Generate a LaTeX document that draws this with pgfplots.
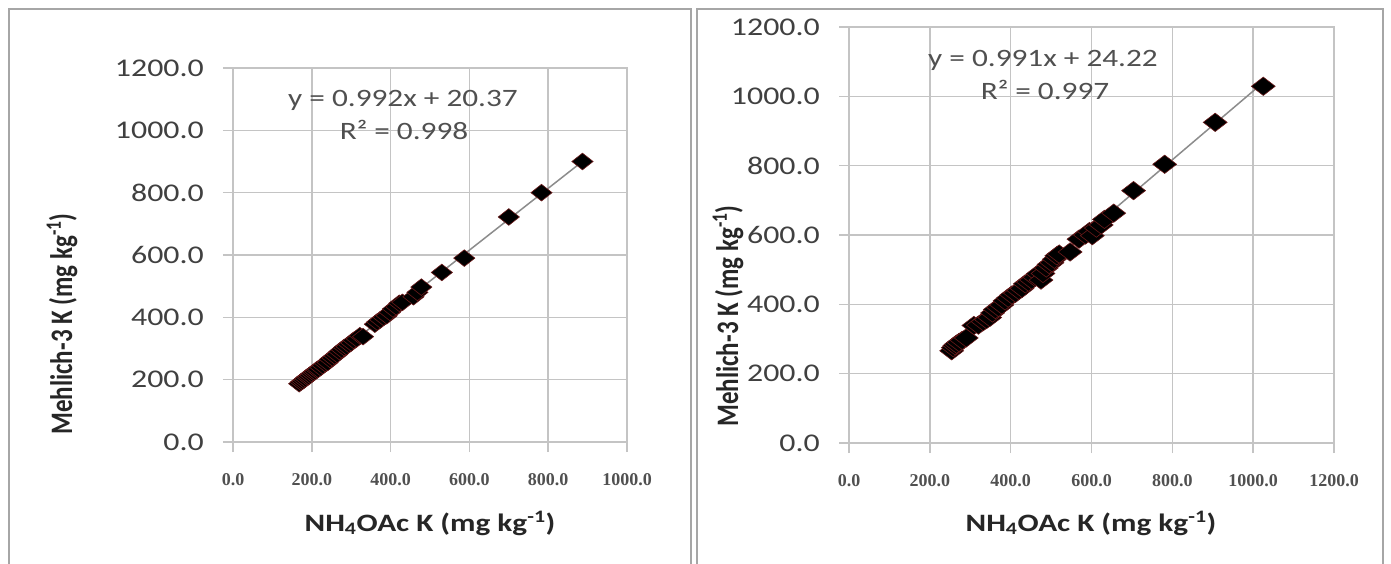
\documentclass[border=0pt]{standalone}
\usepackage{pgfplots}
\pgfplotsset{compat=1.18}
\usepackage{fontspec}
\setmainfont{Carlito}
\newfontfamily\wide{Carlito}[FakeStretch=1.25]
\newfontfamily\serifx{Liberation Serif}
\definecolor{gridc}{HTML}{C4C4C4}
\definecolor{ticktxt}{HTML}{404040}
\definecolor{xticktxt}{HTML}{505050}
\definecolor{eqtxt}{HTML}{505050}
\definecolor{labtxt}{HTML}{262626}
\definecolor{mkedge}{HTML}{6B1A1A}
\definecolor{trend}{HTML}{8C8C8C}
\definecolor{panel}{HTML}{A6A6A6}

\pgfplotsset{
  common/.style={
    anchor=south west, scale only axis,
    xmin=0, ymin=0, ymax=1200,
    ytick={0,200,...,1200},
    grid=major,
    major grid style={gridc, line width=1.6pt},
    axis line style={gridc, line width=1.6pt},
    every tick/.style={gridc, line width=1.6pt},
    major tick length=10pt,
    tick align=outside,
    tick pos=left,
    axis on top=false,
    /pgf/number format/.cd, fixed, fixed zerofill, precision=1, 1000 sep={}, assume math mode=true,
    /pgfplots/.cd,
    yticklabel style={font=\wide\fontsize{25.5}{30}\selectfont, text=ticktxt, anchor=east, inner sep=0pt, xshift=-19pt},
    xticklabel style={font=\serifx\bfseries\fontsize{18}{22}\selectfont, text=xticktxt, anchor=center, inner sep=0pt, yshift=-28pt},
    clip=false,
  }
}

\begin{document}
\begin{tikzpicture}[x=1pt,y=1pt]
\path[use as bounding box] (0,0) rectangle (1391,-564);
\fill[white] (0,0) rectangle (1391,-564);
% panel frames
\draw[panel, line width=2pt] (9,-564) -- (9,-9) -- (691,-9) -- (691,-564);
\draw[panel, line width=2pt] (697,-564) -- (697,-9) -- (1383,-9) -- (1383,-564);

% ---------- left axis ----------
\begin{axis}[common,
  at={(233pt,-442pt)}, width=394pt, height=374pt,
  xmax=1000, xtick={0,200,...,1000}]
\addplot[trend, line width=1.5pt] coordinates {(168,187.0) (887,900.3)};
\addplot[only marks, mark=square*, mark size=5.9pt,
  mark options={xscale=1.27, rotate=45, fill=black, draw=mkedge, line width=0.6pt}]
  coordinates {
  (168,187) (172,192) (176,195) (180,199) (184,203) (188,208) (192,210)
  (196,214) (200,219) (204,223) (208,226) (212,231) (216,233) (222,239)
  (228,245) (234,252) (240,255) (246,265) (252,270) (258,276) (264,281)
  (270,290) (276,296) (282,303) (288,306) (294,313) (300,318) (306,326)
  (314,331) (322,341) (330,338) (360,378) (366,385) (374,392) (382,400)
  (390,405) (398,416) (406,427) (414,434) (422,445) (430,448) (458,466)
  (468,480) (478,497) (530,544) (587,590) (700,722) (783,800) (887,900)
  };
\end{axis}

% ---------- right axis ----------
\begin{axis}[common,
  at={(849pt,-443pt)}, width=485pt, height=416pt,
  xmax=1200, xtick={0,200,...,1200}]
\addplot[trend, line width=1.5pt] coordinates {(254,275.9) (1025,1040.0)};
\addplot[only marks, mark=square*, mark size=6.5pt,
  mark options={xscale=1.3, rotate=45, fill=black, draw=mkedge, line width=0.6pt}]
  coordinates {
  (254,266) (258,275) (262,281) (266,285) (272,290) (280,296) (290,303)
  (309,339) (320,340) (332,350) (340,356) (348,362) (355,375) (362,385)
  (370,391) (378,398) (386,410) (394,418) (403,427) (412,432) (420,440)
  (428,446) (436,459) (444,464) (452,470) (460,478) (468,488) (475,470)
  (480,489) (488,505) (495,515) (502,520) (508,530) (514,540) (520,545)
  (547,551) (569,588) (585,600) (595,610) (602,598) (612,620) (624,629)
  (632,645) (655,663) (704,728) (781,804) (906,925) (1025,1029)
  };
\end{axis}

% labels
\node[font=\wide\bfseries\fontsize{25}{30}\selectfont, text=labtxt] at (430,-523) {NH\textsubscript{4}OAc K (mg kg\textsuperscript{-1})};
\node[font=\wide\bfseries\fontsize{25}{30}\selectfont, text=labtxt] at (1091,-523) {NH\textsubscript{4}OAc K (mg kg\textsuperscript{-1})};
\node[font=\bfseries\fontsize{25}{30}\selectfont, text=labtxt, rotate=90, yscale=1.25] at (62,-324) {Mehlich-3 K (mg kg\textsuperscript{-1})};
\node[font=\bfseries\fontsize{25}{30}\selectfont, text=labtxt, rotate=90, yscale=1.25] at (728,-316) {Mehlich-3 K (mg kg\textsuperscript{-1})};

% equations
\node[font=\wide\fontsize{25}{30}\selectfont, text=eqtxt] at (403,-100) {y = 0.992x + 20.37};
\node[font=\wide\fontsize{25}{30}\selectfont, text=eqtxt] at (404,-130) {R² = 0.998};
\node[font=\wide\fontsize{25}{30}\selectfont, text=eqtxt] at (1043,-60) {y = 0.991x + 24.22};
\node[font=\wide\fontsize{25}{30}\selectfont, text=eqtxt] at (1045,-90) {R² = 0.997};
\end{tikzpicture}
\end{document}
